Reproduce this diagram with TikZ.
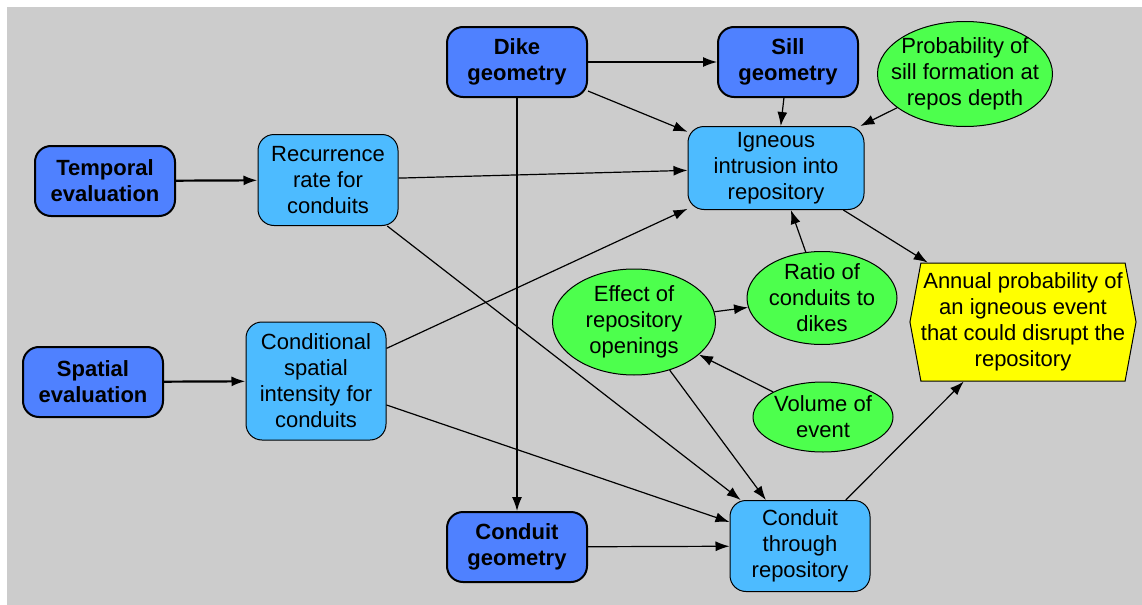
\documentclass[tikz,border=0pt]{standalone}
\usepackage{fontspec}
\setmainfont{Liberation Sans}
\usepackage{xcolor}
\usetikzlibrary{arrows.meta}
\usetikzlibrary{shapes.geometric, shapes.symbols}
\definecolor{bggray}{RGB}{204,204,204}
\definecolor{evalblue}{RGB}{79,129,255}
\definecolor{varblue}{RGB}{77,187,255}
\definecolor{chancegreen}{RGB}{77,255,77}
\definecolor{objyellow}{RGB}{255,255,0}

\begin{document}
\begin{tikzpicture}[x=0.5pt, y=-0.5pt,
  every node/.style={font=\fontsize{11}{13}\selectfont, align=center, inner sep=0pt},
  evalbox/.style={draw, line width=1pt, fill=evalblue, rounded corners=8pt,
    minimum width=70pt, minimum height=35pt, font=\fontsize{11}{13}\selectfont\bfseries},
  varbox/.style={draw, line width=0.5pt, fill=varblue, rounded corners=8pt, minimum width=70pt},
  chance/.style={draw, ellipse, line width=0.5pt, fill=chancegreen, inner sep=-7pt},
  objective/.style={draw, signal, signal to=west and east, signal pointer angle=159,
    line width=0.5pt, fill=objyellow, minimum width=111pt, minimum height=59pt},
  link/.style={-{Latex[length=7pt,width=5pt]}, line width=0.6pt},
  thicklink/.style={link, line width=1.1pt}
]
\useasboundingbox (0,0) rectangle (1142,605);
\fill[bggray] (7,7) rectangle (1142,605);

%inputs
\node[evalbox] (temporal) at (105,181) {Temporal\\evaluation};
\node[evalbox] (spatial) at (93,382) {Spatial\\evaluation};
\node[evalbox] (dike) at (517,62) {Dike\\geometry};
\node[evalbox] (sill) at (788,62) {Sill\\geometry};
\node[evalbox] (cgeom) at (517,547) {Conduit\\geometry};

%intermediate variables
\node[varbox, minimum height=45.5pt] (recur) at (328,180) {Recurrence\\rate for\\conduits};
\node[varbox, minimum height=59pt] (cond) at (316,381) {Conditional\\spatial\\intensity for\\conduits};
\node[varbox, minimum width=88pt, minimum height=41.5pt] (igneous) at (776,168) {Igneous\\intrusion into\\repository};
\node[varbox, minimum height=45.5pt] (cthrough) at (800,546) {Conduit\\through\\repository};

%chance nodes
\node[chance, minimum width=87.5pt, minimum height=52.5pt] (psill) at (965,74) {Probability of\\sill formation at\\repos depth};
\node[chance, minimum width=81.5pt, minimum height=53pt] (effect) at (634,322) {Effect of\\repository\\openings};
\node[chance, minimum width=75pt, minimum height=46.5pt] (ratio) at (822,298) {Ratio of\\conduits to\\dikes};
\node[chance, minimum width=70pt, minimum height=35pt] (volume) at (823,417) {Volume of\\event};

%objective
\node[objective] (annual) at (1023,322) {Annual probability of\\an igneous event\\that could disrupt the\\repository};

%influences
\draw[thicklink] (temporal) -- (recur);
\draw[thicklink] (spatial) -- (cond);
\draw[link] (dike) -- (sill);
\draw[link] (dike) -- (igneous);
\draw[link] (dike) -- (cgeom);
\draw[link] (sill) -- (igneous);
\draw[link] (psill) -- (igneous);
\draw[link] (recur) -- (igneous);
\draw[link] (recur) -- (cthrough);
\draw[link] (cond) -- (igneous);
\draw[link] (cond) -- (cthrough);
\draw[link] (effect) -- (ratio);
\draw[link] (volume) -- (effect);
\draw[link] (effect) -- (cthrough);
\draw[link] (ratio) -- (igneous);
\draw[link] (igneous) -- (annual);
\draw[link] (cthrough) -- (annual);
\draw[link] (cgeom) -- (cthrough);
\end{tikzpicture}
\end{document}
